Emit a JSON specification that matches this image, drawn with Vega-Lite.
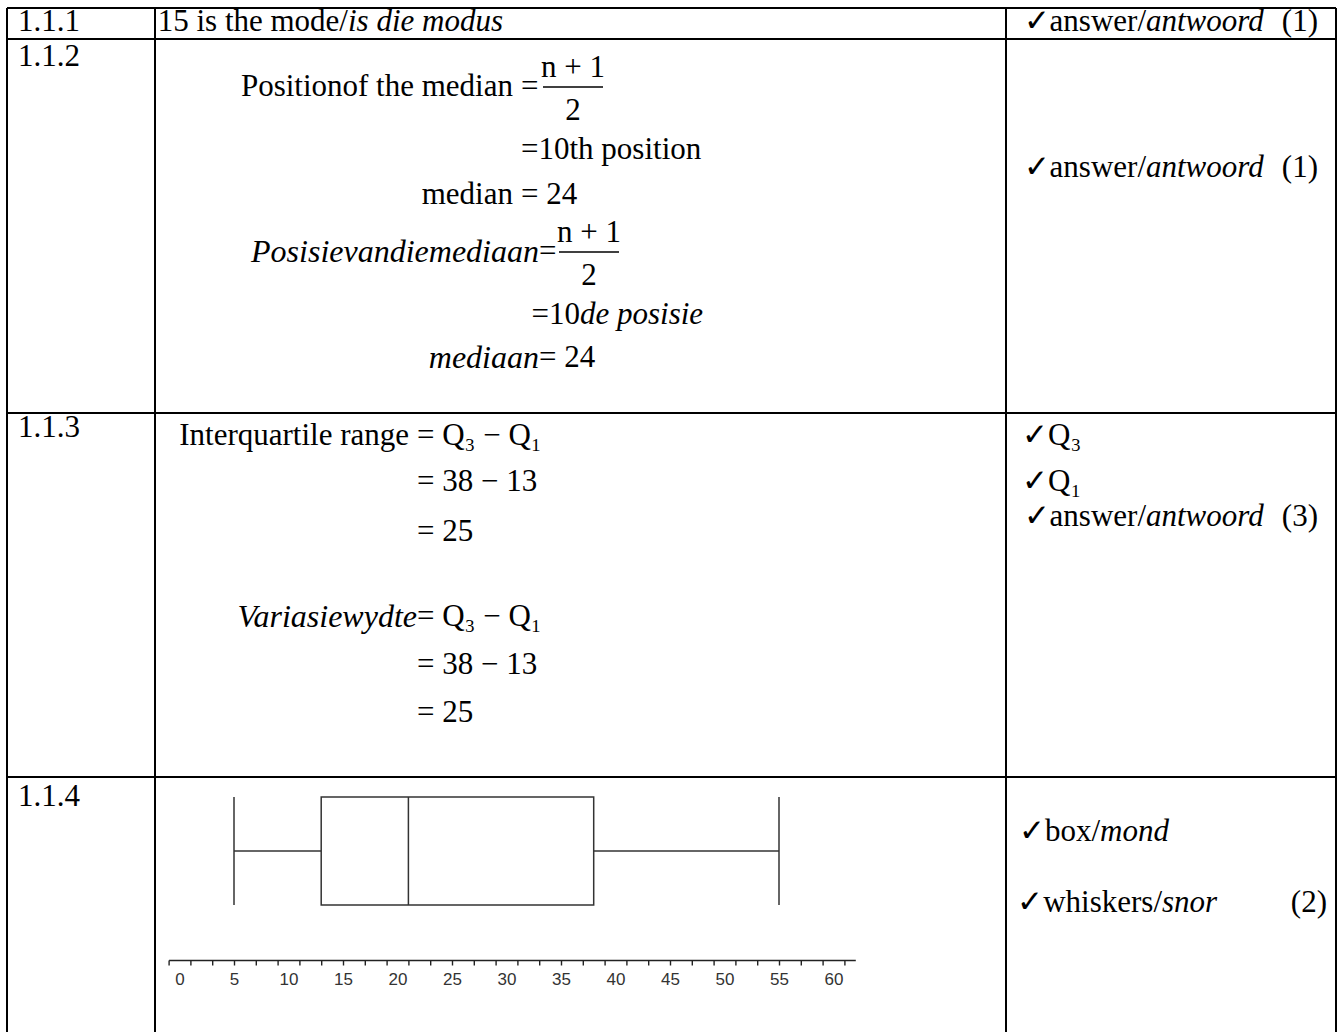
{
  "$schema": "https://vega.github.io/schema/vega-lite/v6.json",
  "width": 1341,
  "height": 1032,
  "autosize": {"type": "none"},
  "padding": 0,
  "background": "white",
  "config": {"view": {"stroke": null}},
  "datasets": {
    "text": [
      {"q": "1.1.1", "col": "label", "line": 1, "slot": 1, "part": "start", "lang": "en", "text": "1.1.1"},
      {"q": "1.1.1", "col": "work", "line": 1, "slot": 2, "part": "head", "lang": "en", "text": "15 is the mode/"},
      {"q": "1.1.1", "col": "work", "line": 1, "slot": 2, "part": "start", "lang": "af", "text": "is die modus"},
      {"q": "1.1.1", "col": "mark", "line": 1, "slot": 11, "part": "head", "lang": "en", "text": "✓answer/"},
      {"q": "1.1.1", "col": "mark", "line": 1, "slot": 11, "part": "start", "lang": "af", "text": "antwoord"},
      {"q": "1.1.1", "col": "mark", "line": 1, "slot": 13, "part": "head", "lang": "en", "text": "(1)"},

      {"q": "1.1.2", "col": "label", "line": 2, "slot": 1, "part": "start", "lang": "en", "text": "1.1.2"},
      {"q": "1.1.2", "col": "work", "line": 3, "slot": 4, "part": "lhs", "lang": "en", "text": "Positionof the median"},
      {"q": "1.1.2", "col": "work", "line": 3, "slot": 4, "part": "start", "lang": "en", "text": "="},
      {"q": "1.1.2", "col": "work", "line": 3, "slot": 6, "part": "num", "lang": "en", "text": "n + 1"},
      {"q": "1.1.2", "col": "work", "line": 3, "slot": 6, "part": "den", "lang": "en", "text": "2"},
      {"q": "1.1.2", "col": "work", "line": 3, "slot": 6, "part": "bar", "lang": "en", "text": ""},
      {"q": "1.1.2", "col": "work", "line": 4, "slot": 4, "part": "start", "lang": "en", "text": "=10th position"},
      {"q": "1.1.2", "col": "work", "line": 6, "slot": 4, "part": "lhs", "lang": "en", "text": "median"},
      {"q": "1.1.2", "col": "work", "line": 6, "slot": 4, "part": "start", "lang": "en", "text": "= 24"},
      {"q": "1.1.2", "col": "work", "line": 7, "slot": 5, "part": "head", "lang": "af", "text": "Posisievandiemediaan"},
      {"q": "1.1.2", "col": "work", "line": 7, "slot": 5, "part": "start", "lang": "en", "text": "="},
      {"q": "1.1.2", "col": "work", "line": 7, "slot": 8, "part": "num", "lang": "en", "text": "n + 1"},
      {"q": "1.1.2", "col": "work", "line": 7, "slot": 8, "part": "den", "lang": "en", "text": "2"},
      {"q": "1.1.2", "col": "work", "line": 7, "slot": 8, "part": "bar", "lang": "en", "text": ""},
      {"q": "1.1.2", "col": "work", "line": 8, "slot": 7, "part": "head", "lang": "en", "text": "=10"},
      {"q": "1.1.2", "col": "work", "line": 8, "slot": 7, "part": "start", "lang": "af", "text": "de posisie"},
      {"q": "1.1.2", "col": "work", "line": 9, "slot": 5, "part": "head", "lang": "af", "text": "mediaan"},
      {"q": "1.1.2", "col": "work", "line": 9, "slot": 5, "part": "start", "lang": "en", "text": "= 24"},
      {"q": "1.1.2", "col": "mark", "line": 5, "slot": 11, "part": "head", "lang": "en", "text": "✓answer/"},
      {"q": "1.1.2", "col": "mark", "line": 5, "slot": 11, "part": "start", "lang": "af", "text": "antwoord"},
      {"q": "1.1.2", "col": "mark", "line": 5, "slot": 13, "part": "head", "lang": "en", "text": "(1)"},

      {"q": "1.1.3", "col": "label", "line": 10, "slot": 1, "part": "start", "lang": "en", "text": "1.1.3"},
      {"q": "1.1.3", "col": "work", "line": 11, "slot": 3, "part": "lhs", "lang": "en", "text": "Interquartile range"},
      {"q": "1.1.3", "col": "work", "line": 11, "slot": 3, "part": "start", "lang": "en", "text": "= Q₃ − Q₁"},
      {"q": "1.1.3", "col": "work", "line": 12, "slot": 3, "part": "start", "lang": "en", "text": "= 38 − 13"},
      {"q": "1.1.3", "col": "work", "line": 14, "slot": 3, "part": "start", "lang": "en", "text": "= 25"},
      {"q": "1.1.3", "col": "work", "line": 15, "slot": 3, "part": "head", "lang": "af", "text": "Variasiewydte"},
      {"q": "1.1.3", "col": "work", "line": 15, "slot": 3, "part": "start", "lang": "en", "text": "= Q₃ − Q₁"},
      {"q": "1.1.3", "col": "work", "line": 16, "slot": 3, "part": "start", "lang": "en", "text": "= 38 − 13"},
      {"q": "1.1.3", "col": "work", "line": 17, "slot": 3, "part": "start", "lang": "en", "text": "= 25"},
      {"q": "1.1.3", "col": "mark", "line": 11, "slot": 9, "part": "start", "lang": "en", "text": "✓Q₃"},
      {"q": "1.1.3", "col": "mark", "line": 12, "slot": 9, "part": "start", "lang": "en", "text": "✓Q₁"},
      {"q": "1.1.3", "col": "mark", "line": 13, "slot": 11, "part": "head", "lang": "en", "text": "✓answer/"},
      {"q": "1.1.3", "col": "mark", "line": 13, "slot": 11, "part": "start", "lang": "af", "text": "antwoord"},
      {"q": "1.1.3", "col": "mark", "line": 13, "slot": 13, "part": "head", "lang": "en", "text": "(3)"},

      {"q": "1.1.4", "col": "label", "line": 18, "slot": 1, "part": "start", "lang": "en", "text": "1.1.4"},
      {"q": "1.1.4", "col": "mark", "line": 19, "slot": 10, "part": "head", "lang": "en", "text": "✓box/"},
      {"q": "1.1.4", "col": "mark", "line": 19, "slot": 10, "part": "start", "lang": "af", "text": "mond"},
      {"q": "1.1.4", "col": "mark", "line": 20, "slot": 12, "part": "head", "lang": "en", "text": "✓whiskers/"},
      {"q": "1.1.4", "col": "mark", "line": 20, "slot": 12, "part": "start", "lang": "af", "text": "snor"},
      {"q": "1.1.4", "col": "mark", "line": 20, "slot": 14, "part": "head", "lang": "en", "text": "(2)"}
    ],
    "grid": [
      {"kind": "h", "at": 0, "from": 0, "to": 3},
      {"kind": "h", "at": 1, "from": 0, "to": 3},
      {"kind": "h", "at": 2, "from": 0, "to": 3},
      {"kind": "h", "at": 3, "from": 0, "to": 3},
      {"kind": "v", "at": 0, "from": 0, "to": 4},
      {"kind": "v", "at": 1, "from": 0, "to": 4},
      {"kind": "v", "at": 2, "from": 0, "to": 4},
      {"kind": "v", "at": 3, "from": 0, "to": 4}
    ],
    "box": [
      {"set": "scores", "min": 5, "q1": 13, "median": 21, "q3": 38, "max": 55}
    ]
  },
  "resolve": {
    "scale": {"x": "independent", "y": "independent"},
    "axis": {"x": "independent", "y": "independent"}
  },
  "layer": [
    {
      "data": {"name": "grid"},
      "layer": [
        {
          "transform": [{"filter": "datum.kind === 'h'"}],
          "mark": {"type": "rule", "color": "black", "strokeWidth": 2},
          "encoding": {
            "y": {"field": "at", "type": "quantitative", "scale": {"domain": [0, 1, 2, 3, 4], "range": [8, 39, 413, 777, 1040], "nice": false, "zero": false}, "axis": null},
            "x": {"field": "from", "type": "quantitative", "scale": {"domain": [0, 1, 2, 3], "range": [7, 155, 1006, 1336], "nice": false, "zero": false}, "axis": null},
            "x2": {"field": "to"}
          }
        },
        {
          "transform": [{"filter": "datum.kind === 'v'"}],
          "mark": {"type": "rule", "color": "black", "strokeWidth": 2},
          "encoding": {
            "x": {"field": "at", "type": "quantitative", "scale": {"domain": [0, 1, 2, 3], "range": [7, 155, 1006, 1336], "nice": false, "zero": false}, "axis": null},
            "y": {"field": "from", "type": "quantitative", "scale": {"domain": [0, 1, 2, 3, 4], "range": [8, 39, 413, 777, 1040], "nice": false, "zero": false}, "axis": null},
            "y2": {"field": "to"}
          }
        }
      ]
    },
    {
      "data": {"name": "text"},
      "encoding": {
        "x": {"field": "slot", "type": "quantitative", "scale": {"domain": [1, 2, 3, 4, 5, 6, 7, 8, 9, 10, 11, 12, 13, 14], "range": [18, 348, 417, 521, 539, 573, 580, 589, 1022, 1100, 1146, 1162, 1318, 1327], "nice": false, "zero": false}, "axis": null},
        "y": {"field": "line", "type": "quantitative", "scale": {"domain": [1, 2, 3, 4, 5, 6, 7, 8, 9, 10, 11, 12, 13, 14, 15, 16, 17, 18, 19, 20], "range": [22, 57, 87, 150, 168, 195, 252, 315, 358, 428, 436, 482, 517, 532, 617, 665, 713, 797, 832, 903], "nice": false, "zero": false}, "axis": null}
      },
      "layer": [
        {
          "transform": [{"filter": "datum.part === 'lhs' && datum.lang === 'en'"}],
          "mark": {"type": "text", "align": "right", "baseline": "middle", "dx": -8, "font": "Liberation Serif", "fontSize": 31, "color": "black"},
          "encoding": {"text": {"field": "text"}}
        },
        {
          "transform": [{"filter": "datum.part === 'head' && datum.lang === 'en'"}],
          "mark": {"type": "text", "align": "right", "baseline": "middle", "font": "Liberation Serif", "fontSize": 31, "color": "black"},
          "encoding": {"text": {"field": "text"}}
        },
        {
          "transform": [{"filter": "datum.part === 'head' && datum.lang === 'af'"}],
          "mark": {"type": "text", "align": "right", "baseline": "middle", "font": "Liberation Serif", "fontStyle": "italic", "fontSize": 32, "color": "black"},
          "encoding": {"text": {"field": "text"}}
        },
        {
          "transform": [{"filter": "datum.part === 'start' && datum.lang === 'en'"}],
          "mark": {"type": "text", "align": "left", "baseline": "middle", "font": "Liberation Serif", "fontSize": 31, "color": "black"},
          "encoding": {"text": {"field": "text"}}
        },
        {
          "transform": [{"filter": "datum.part === 'start' && datum.lang === 'af'"}],
          "mark": {"type": "text", "align": "left", "baseline": "middle", "font": "Liberation Serif", "fontStyle": "italic", "fontSize": 31, "color": "black"},
          "encoding": {"text": {"field": "text"}}
        },
        {
          "transform": [{"filter": "datum.part === 'num'"}],
          "mark": {"type": "text", "align": "center", "baseline": "middle", "dy": -19, "font": "Liberation Serif", "fontSize": 31, "color": "black"},
          "encoding": {"text": {"field": "text"}}
        },
        {
          "transform": [{"filter": "datum.part === 'den'"}],
          "mark": {"type": "text", "align": "center", "baseline": "middle", "dy": 24, "font": "Liberation Serif", "fontSize": 31, "color": "black"},
          "encoding": {"text": {"field": "text"}}
        },
        {
          "transform": [{"filter": "datum.part === 'bar'"}],
          "mark": {"type": "tick", "orient": "horizontal", "size": 60, "thickness": 1.5, "color": "black", "opacity": 1}
        }
      ]
    },
    {
      "data": {"name": "box"},
      "encoding": {
        "y": {"field": "set", "type": "nominal", "scale": {"domain": ["scores"], "range": [797, 905], "paddingInner": 0, "paddingOuter": 0}, "axis": null}
      },
      "layer": [
        {
          "mark": {"type": "rule", "color": "#333333", "strokeWidth": 1.5},
          "encoding": {
            "x": {
              "field": "min", "type": "quantitative",
              "scale": {"domain": [-1, 62], "range": [168.6, 855.3], "nice": false, "zero": false},
              "axis": {
                "orient": "bottom", "offset": -72, "title": null, "grid": false,
                "values": [-1, 0, 1, 2, 3, 4, 5, 6, 7, 8, 9, 10, 11, 12, 13, 14, 15, 16, 17, 18, 19, 20, 21, 22, 23, 24, 25, 26, 27, 28, 29, 30, 31, 32, 33, 34, 35, 36, 37, 38, 39, 40, 41, 42, 43, 44, 45, 46, 47, 48, 49, 50, 51, 52, 53, 54, 55, 56, 57, 58, 59, 60, 61, 62],
                "labels": false,
                "domainColor": "#222222", "domainWidth": 1.5,
                "tickColor": "#222222", "tickWidth": 1.4, "tickSize": 5, "tickRound": false
              }
            },
            "x2": {"field": "q1"}
          }
        },
        {
          "mark": {"type": "rule", "color": "#333333", "strokeWidth": 1.5},
          "encoding": {
            "x": {"field": "q3", "type": "quantitative"},
            "x2": {"field": "max"}
          }
        },
        {
          "mark": {"type": "bar", "fill": "white", "stroke": "#333333", "strokeWidth": 1.5},
          "encoding": {
            "x": {"field": "q1", "type": "quantitative"},
            "x2": {"field": "q3"}
          }
        },
        {
          "mark": {"type": "tick", "size": 108, "thickness": 1.5, "color": "#333333", "opacity": 1},
          "encoding": {"x": {"field": "median", "type": "quantitative"}}
        },
        {
          "mark": {"type": "tick", "size": 108, "thickness": 1.5, "color": "#333333", "opacity": 1},
          "encoding": {"x": {"field": "min", "type": "quantitative"}}
        },
        {
          "mark": {"type": "tick", "size": 108, "thickness": 1.5, "color": "#333333", "opacity": 1},
          "encoding": {"x": {"field": "max", "type": "quantitative"}}
        }
      ]
    },
    {
      "data": {"name": "box"},
      "mark": {"type": "tick", "opacity": 0},
      "encoding": {
        "y": {"field": "set", "type": "nominal", "scale": {"domain": ["scores"], "range": [797, 905], "paddingInner": 0, "paddingOuter": 0}, "axis": null},
        "x": {
          "field": "median", "type": "quantitative",
          "scale": {"domain": [-1, 62], "range": [168.6, 855.3], "nice": false, "zero": false},
          "axis": {
            "orient": "bottom", "offset": -72, "title": null, "grid": false,
            "values": [0, 5, 10, 15, 20, 25, 30, 35, 40, 45, 50, 55, 60],
            "format": "d", "domain": false,
            "tickSize": 5, "tickOpacity": 0,
            "labelOverlap": false, "labelFlush": false, "labelBound": false,
            "labelFont": "Liberation Sans", "labelFontSize": 17, "labelColor": "#333333", "labelPadding": 6
          }
        }
      }
    }
  ]
}
